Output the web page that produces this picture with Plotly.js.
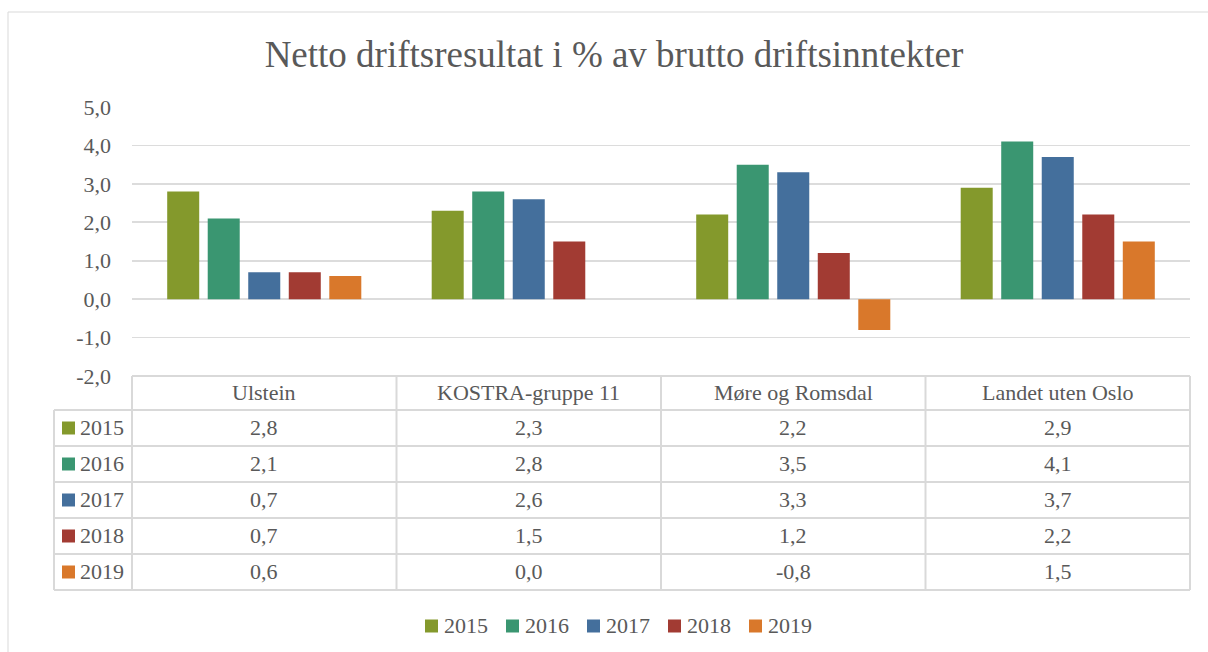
<!DOCTYPE html>
<html>
<head>
<meta charset="utf-8">
<script src="https://cdn.plot.ly/plotly-3.0.1.min.js"></script>
<style>html,body{margin:0;padding:0;background:#fff;}#chart{width:1208px;height:652px;}</style>
</head>
<body>
<div id="chart"></div>
<script>
const categories = ['Ulstein', 'KOSTRA-gruppe 11', 'Møre og Romsdal', 'Landet uten Oslo'];
const years = ['2015', '2016', '2017', '2018', '2019'];
const v2015 = [2.8, 2.3, 2.2, 2.9];
const v2016 = [2.1, 2.8, 3.5, 4.1];
const v2017 = [0.7, 2.6, 3.3, 3.7];
const v2018 = [0.7, 1.5, 1.2, 2.2];
const v2019 = [0.6, 0.0, -0.8, 1.5];
const yTickValues = [-2, -1, 0, 1, 2, 3, 4, 5];
const yTickLabels = ['-2,0', '-1,0', '0,0', '1,0', '2,0', '3,0', '4,0', '5,0'];
const seriesValues = [v2015, v2016, v2017, v2018, v2019];
const colors = ['#84992c', '#3a9671', '#446f9c', '#a23b33', '#d9782b'];

// layout geometry (pixels)
const W = 1208, H = 652;
const L = 132, R = 1190, T = 107, B = 376;
const PW = R - L, PH = B - T;
const px = p => (p - L) / PW;
const py = p => (B - p) / PH;
const headerTop = 376, headerBot = 410, rowH = 36;
const tableLeft = 54;
const grey = '#d9d9d9';
const txt = '#595959';
const FONT = '"Liberation Serif", "DejaVu Serif", serif';
const FS = 22;
const fmt = v => v.toFixed(1).replace('.', ',');

const traces = years.map((yr, i) => ({
  type: 'bar',
  name: yr,
  x: categories,
  y: seriesValues[i],
  marker: { color: colors[i], line: { width: 0 } },
  hoverinfo: 'skip',
  showlegend: false
}));

const shapes = [];
const annotations = [];
const lineStyle = { color: grey, width: 2 };
const tableBottom = headerBot + rowH * years.length;

// chart border
shapes.push({ type: 'rect', xref: 'paper', yref: 'paper', x0: px(8), x1: px(1240), y0: py(12), y1: py(700),
  line: { color: grey, width: 1 }, layer: 'below' });

shapes.push({ type: 'line', xref: 'paper', yref: 'paper', x0: 0, x1: 1, y0: py(headerTop), y1: py(headerTop), line: lineStyle });
for (let r = 0; r <= years.length; r++) {
  const yy = headerBot + r * rowH;
  shapes.push({ type: 'line', xref: 'paper', yref: 'paper', x0: px(tableLeft), x1: 1, y0: py(yy), y1: py(yy), line: lineStyle });
}
for (let c = 0; c <= categories.length; c++) {
  const xx = c / categories.length;
  shapes.push({ type: 'line', xref: 'paper', yref: 'paper', x0: xx, x1: xx, y0: py(headerTop), y1: py(tableBottom), line: lineStyle });
}
shapes.push({ type: 'line', xref: 'paper', yref: 'paper', x0: px(tableLeft), x1: px(tableLeft), y0: py(headerBot), y1: py(tableBottom), line: lineStyle });

categories.forEach(c => {
  annotations.push({ xref: 'x', yref: 'paper', x: c, y: py((headerTop + headerBot) / 2 - 1), text: c, showarrow: false,
    xanchor: 'center', yanchor: 'middle', font: { family: FONT, size: FS, color: txt } });
});
years.forEach((yr, i) => {
  const yc = headerBot + rowH * i + rowH / 2;
  shapes.push({ type: 'rect', xref: 'paper', yref: 'paper', x0: px(62), x1: px(75), y0: py(yc - 6.5), y1: py(yc + 6.5),
    fillcolor: colors[i], line: { width: 0 } });
  annotations.push({ xref: 'paper', yref: 'paper', x: px(78), y: py(yc - 1), text: yr, showarrow: false,
    xanchor: 'left', yanchor: 'middle', font: { family: FONT, size: FS, color: txt } });
  categories.forEach((c, j) => {
    annotations.push({ xref: 'x', yref: 'paper', x: c, y: py(yc - 1), text: fmt(seriesValues[i][j]), showarrow: false,
      xanchor: 'center', yanchor: 'middle', font: { family: FONT, size: FS, color: txt } });
  });
  // bottom legend entry
  const lx = 425 + 81 * i, ly = 626;
  shapes.push({ type: 'rect', xref: 'paper', yref: 'paper', x0: px(lx), x1: px(lx + 13), y0: py(ly - 6.5), y1: py(ly + 6.5),
    fillcolor: colors[i], line: { width: 0 } });
  annotations.push({ xref: 'paper', yref: 'paper', x: px(lx + 17), y: py(ly - 1), text: yr, showarrow: false,
    xanchor: 'left', yanchor: 'middle', font: { family: FONT, size: FS, color: txt } });
});

const layout = {
  width: W, height: H,
  margin: { l: L, r: W - R, t: T, b: H - B, pad: 0 },
  paper_bgcolor: '#fff', plot_bgcolor: '#fff',
  title: { text: 'Netto driftsresultat i % av brutto driftsinntekter', x: 614 / W, xanchor: 'center', xref: 'container',
    y: 1 - 54 / H, yanchor: 'middle', yref: 'container', font: { family: FONT, size: 37, color: txt } },
  font: { family: FONT, color: txt, size: FS },
  barmode: 'group', bargap: 0.234, bargroupgap: 0.21,
  xaxis: { showticklabels: false, showgrid: false, showline: false, zeroline: false, ticks: '', fixedrange: true },
  yaxis: { range: [-2, 5], tickmode: 'array', tickvals: yTickValues, ticktext: yTickLabels, showgrid: true, gridcolor: '#dcdcdc', gridwidth: 1.6,
    zeroline: true, zerolinecolor: '#dcdcdc', zerolinewidth: 1.6, showline: false, ticks: '', ticklabelstandoff: 20,
    tickfont: { family: FONT, size: FS, color: txt }, fixedrange: true },
  showlegend: false,
  shapes: shapes,
  annotations: annotations
};

Plotly.newPlot('chart', traces, layout, { displayModeBar: false, staticPlot: true });
</script>
</body>
</html>
